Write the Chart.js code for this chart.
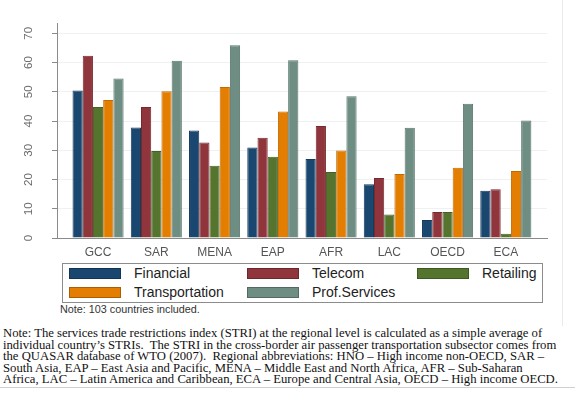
<!DOCTYPE html>
<html><head><meta charset="utf-8">
<script src="https://cdn.jsdelivr.net/npm/chart.js@4"></script>
<style>
html,body{margin:0;padding:0;background:#fff;}
body{width:575px;height:395px;position:relative;overflow:hidden;font-family:"Liberation Sans",Arial,sans-serif;}
#wrap{position:absolute;left:0;top:0;width:575px;height:262px;}
#legend{position:absolute;left:62px;top:263px;width:479px;height:38px;border:1px solid #8c8c8c;}
.item{position:absolute;height:12px;}
.sw{position:absolute;left:0;top:0;width:52px;height:11px;box-sizing:border-box;border:1px solid rgba(0,0,0,0.25);}
.lt{position:absolute;left:65px;top:-3px;font-size:14px;color:#222;white-space:nowrap;line-height:16px;}
#note1{position:absolute;left:60px;top:303px;font-size:10.8px;line-height:12px;color:#333;}
#note2{position:absolute;left:3px;top:328px;font-family:"Liberation Serif","Times New Roman",serif;font-size:12.7px;line-height:11.5px;color:#111;white-space:pre;}
#vline{position:absolute;left:562px;top:0;width:1px;height:326px;background:#e6ecee;}
#hline{position:absolute;left:0;top:387px;width:575px;height:1px;background:#d0d0d0;}
</style></head><body>
<div id="wrap"><canvas id="c" width="575" height="262"></canvas></div>
<div id="legend"></div>
<div id="note1">Note: 103 countries included.</div>
<div id="note2">Note: The services trade restrictions index (STRI) at the regional level is calculated as a simple average of
individual country’s STRIs.  The STRI in the cross-border air passenger transportation subsector comes from
the QUASAR database of WTO (2007).  Regional abbreviations: HNO – High income non-OECD, SAR –
South Asia, EAP – East Asia and Pacific, MENA – Middle East and North Africa, AFR – Sub-Saharan
Africa, LAC – Latin America and Caribbean, ECA – Europe and Central Asia, OECD – High income OECD.</div>
<div id="vline"></div>
<div id="hline"></div>
<script>
const categories = ["GCC","SAR","MENA","EAP","AFR","LAC","OECD","ECA"];
const financial      = [50.4, 37.8, 36.8, 31.0, 27.0, 18.4, 6.2, 16.2];
const telecom        = [62.3, 44.8, 32.7, 34.3, 38.3, 20.5, 8.9, 16.7];
const retailing      = [44.8, 29.8, 24.7, 27.8, 22.6, 8.1, 8.9, 1.5];
const transportation = [47.2, 50.2, 51.6, 43.3, 29.9, 21.9, 24.0, 22.9];
const profServices   = [54.5, 60.6, 65.9, 60.8, 48.5, 37.7, 45.9, 40.2];
const seriesNames  = ["Financial","Telecom","Retailing","Transportation","Prof.Services"];
const seriesColors = ["#1a476f","#90353b","#55752f","#e37e00","#6e8e84"];
const seriesBorders = ["#143a5c","#762a30","#456026","#c06a00","#5b766d"];
const yTicks = [0,10,20,30,40,50,60,70];

const seriesValues = [financial, telecom, retailing, transportation, profServices];
const datasets = seriesValues.map((vals, k) => ({
  label: seriesNames[k],
  data: vals.map((v, i) => ({x: i, y: v})),
  backgroundColor: seriesColors[k],
  borderColor: seriesBorders[k],
  borderWidth: 1,
  categoryPercentage: 0.877,
  barPercentage: 1.0
}));

const chart = new Chart(document.getElementById('c'), {
  type: 'bar',
  data: { datasets },
  options: {
    responsive: false,
    animation: false,
    devicePixelRatio: 1,
    layout: { padding: { left: 0, right: 28, top: 12, bottom: 0 } },
    plugins: { legend: { display: false }, tooltip: { enabled: false } },
    scales: {
      x: {
        type: 'linear', min: -0.705, max: 7.707, offset: false,
        ticks: {
          stepSize: 1, includeBounds: false, autoSkip: false, maxRotation: 0, minRotation: 0,
          padding: 7, color: '#555', font: { size: 12, family: '"Liberation Sans", Arial, sans-serif' },
          callback: (v) => (Number.isInteger(v) && categories[v] !== undefined) ? categories[v] : ''
        },
        grid: { display: false, drawTicks: false },
        border: { display: true, color: '#8a8a8a', width: 1 },
        afterFit: (s) => { s.height = 23; }
      },
      y: {
        min: 0, max: 73.2,
        afterBuildTicks: (s) => { s.ticks = yTicks.map(v => ({ value: v })); },
        ticks: {
          minRotation: 90, maxRotation: 90, crossAlign: 'center', padding: 17,
          color: '#6b6b6b', font: { size: 11.5, family: '"Liberation Sans", Arial, sans-serif' }
        },
        grid: { color: '#edf1f2', tickColor: '#8a8a8a', tickLength: 5, drawTicks: true },
        border: { display: true, color: '#8a8a8a', width: 1 },
        afterFit: (s) => { s.width = 57; }
      }
    }
  }
});

// HTML legend built from the chart's datasets
const legend = document.getElementById('legend');
const colLefts = [6, 184, 354];
const rowTops = [4, 23];
chart.data.datasets.forEach((ds, k) => {
  const item = document.createElement('div');
  item.className = 'item';
  item.style.left = colLefts[k % 3] + 'px';
  item.style.top = rowTops[Math.floor(k / 3)] + 'px';
  const sw = document.createElement('div');
  sw.className = 'sw';
  sw.style.background = ds.backgroundColor;
  const lt = document.createElement('div');
  lt.className = 'lt';
  lt.textContent = ds.label;
  item.appendChild(sw); item.appendChild(lt);
  legend.appendChild(item);
});
</script>
</body></html>
